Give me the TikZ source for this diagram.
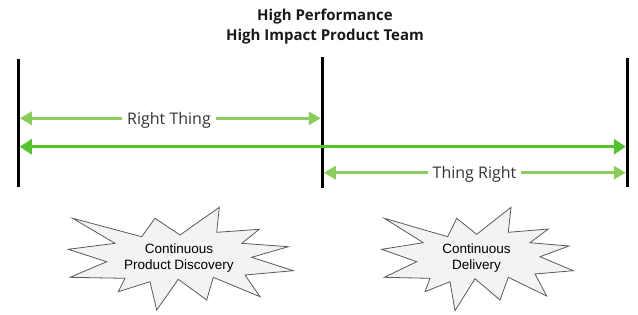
\documentclass[tikz,border=0pt]{standalone}
\usepackage{fontspec}
\setmainfont{Open Sans}
\newfontfamily\arialf{Liberation Sans}
\usetikzlibrary{arrows.meta}
\definecolor{shortgreen}{HTML}{8CCB5E}
\definecolor{longgreen}{HTML}{55C22F}
\definecolor{starfill}{HTML}{F3F3F3}
\definecolor{starline}{HTML}{5A5A5A}
\definecolor{labelgray}{HTML}{333333}
\begin{document}
\begin{tikzpicture}[x=1pt,y=-1pt,
  bar/.style={line width=3pt, black},
  shortarrow/.style={line width=3pt, shortgreen, -{Triangle[length=12pt,width=13pt]}},
  longarrow/.style={line width=3.5pt, longgreen, {Triangle[length=12pt,width=15pt]}-{Triangle[length=12pt,width=15pt]}},
  star/.style={draw=starline, fill=starfill, line width=0.8pt, line join=miter},
  startext/.style={font=\arialf\fontsize{13.5}{16}\selectfont, align=center, anchor=base, inner sep=0pt},
  armlabel/.style={font=\fontsize{16}{19}\selectfont, text=labelgray, anchor=base, inner xsep=4.5pt, inner ysep=0pt},
  titletext/.style={font=\bfseries\fontsize{15}{18}\selectfont, text=black!90, anchor=base, inner sep=0pt}
]
\useasboundingbox (0,0) rectangle (638,314);

% title
\node[titletext] (t1) at (325,20.7) {High Performance};
\node[titletext] (t2) at (325,40.7) {High Impact Product Team};

% vertical bars
\coordinate (Lt) at (18.3,59.3);  \coordinate (Lb) at (18.3,186.7);
\coordinate (Mt) at (322.3,56.7); \coordinate (Mb) at (322.3,188.3);
\coordinate (Rt) at (627.3,58.3); \coordinate (Rb) at (627.3,186.7);
\draw[bar] (Lt) -- (Lb);
\draw[bar] (Mt) -- (Mb);
\draw[bar] (Rt) -- (Rb);

% arrow end points
\coordinate (rtL) at (19.8,118.3);  \coordinate (rtR) at (320.8,118.3);
\coordinate (lgL) at (19.8,146.7);  \coordinate (lgR) at (625.8,146.7);
\coordinate (trL) at (323.8,172.7); \coordinate (trR) at (625.8,172.7);

% Right Thing
\node[armlabel] (rt) at (169,124) {Right Thing};
\draw[shortarrow] (rt.west |- rtL) -- (rtL);
\draw[shortarrow] (rt.east |- rtR) -- (rtR);

% long arrow
\draw[longarrow] (lgL) -- (lgR);

% Thing Right
\node[armlabel] (tr) at (474.5,178.5) {Thing Right};
\draw[shortarrow] (tr.west |- trL) -- (trL);
\draw[shortarrow] (tr.east |- trR) -- (trR);

% left starburst
\draw[star] (72.7,218.3) -- (141.7,236.7) -- (155,218.3) -- (180,235) -- (219.3,207.3) -- (216.7,232.3) -- (259.3,229.3) -- (241.7,243.3) -- (288.3,246.7) -- (251.7,257.3) -- (293.3,270.7) -- (245,275) -- (260,296.7) -- (213.3,277.3) -- (206.7,300) -- (178.3,279.3) -- (156.7,310) -- (150,281.7) -- (118.3,291.7) -- (125,278.3) -- (70,277.3) -- (106.7,261.7) -- (68.3,249.3) -- (115,243.3) -- cycle;
\node[startext] (s1) at (179,269.3) {Continuous\\Product Discovery};

% right starburst
\draw[star] (384.3,218.3) -- (447.7,236.7) -- (456.7,218.3) -- (476.7,234.3) -- (511,207.3) -- (508.3,232.3) -- (548.3,229) -- (530,242.7) -- (569,246) -- (540,256.7) -- (573.3,270.7) -- (535,274) -- (546.7,296) -- (508.3,277.3) -- (500,300) -- (475,278.7) -- (455,310.7) -- (450,281.7) -- (425,291.7) -- (430,278.3) -- (384.3,277.3) -- (416.7,261.7) -- (381.7,249.3) -- (423.3,242.7) -- cycle;
\node[startext] (s2) at (476.5,269.3) {Continuous\\Delivery};
\end{tikzpicture}
\end{document}
